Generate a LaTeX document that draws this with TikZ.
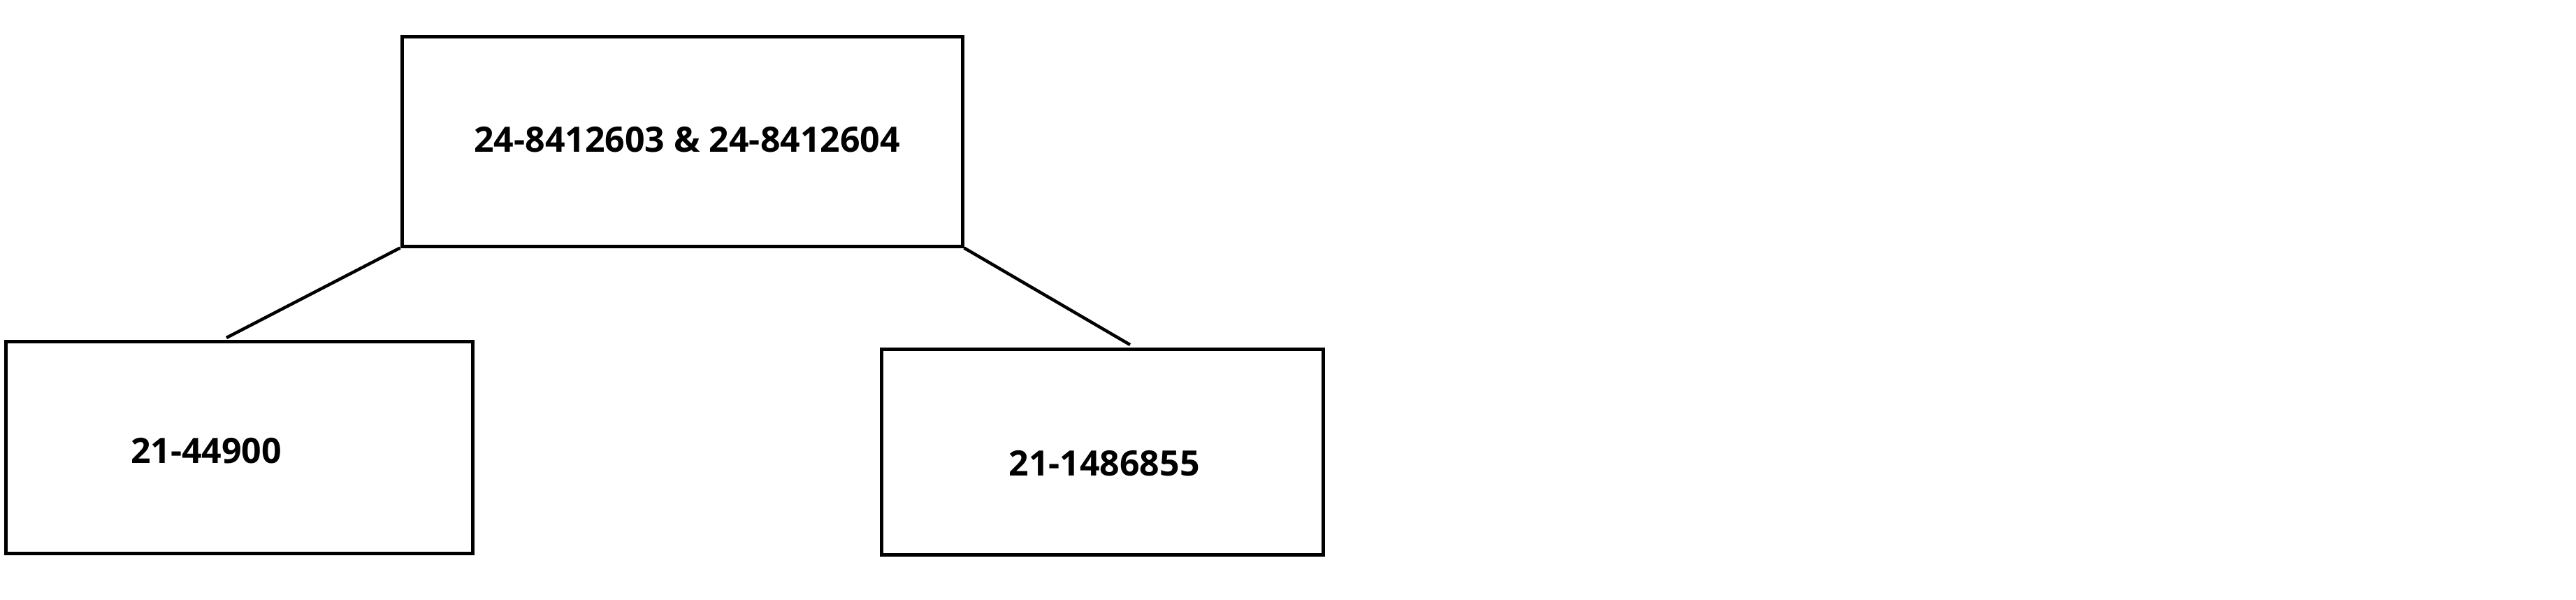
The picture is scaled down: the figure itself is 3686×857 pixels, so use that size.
\documentclass[tikz,border=0pt]{standalone}
\usepackage{fontspec}
\setmainfont{Open Sans}
\begin{document}
\begin{tikzpicture}[
			x = 1pt, y = -1pt,
			box/.style = {draw, line width = 5pt, inner sep = 0pt},
			num/.style = {font = \fontsize{50}{60}\selectfont\bfseries, inner sep = 0pt, anchor = base},
			wire/.style = {line width = 4.5pt}
			]

			\useasboundingbox (0,0) rectangle (3686,857);

			\node[box, minimum width = 802pt, minimum height = 300pt] (top) at (976,202) {};
			\node[box, minimum width = 668pt, minimum height = 303pt] (left) at (342,639.5) {};
			\node[box, minimum width = 632pt, minimum height = 294pt] (right) at (1577,646) {};

			\node[num] (toplabel) at (983,217) {24-8412603 \& 24-8412604};
			\node[num] (leftlabel) at (295,662) {21-44900};
			\node[num] (rightlabel) at (1580,680) {21-1486855};

			\coordinate (leftend) at (324,483);
			\coordinate (rightend) at (1617,493);
			\draw[wire] (top.south west) -- (leftend);
			\draw[wire] (top.south east) -- (rightend);

		\end{tikzpicture}
\end{document}
